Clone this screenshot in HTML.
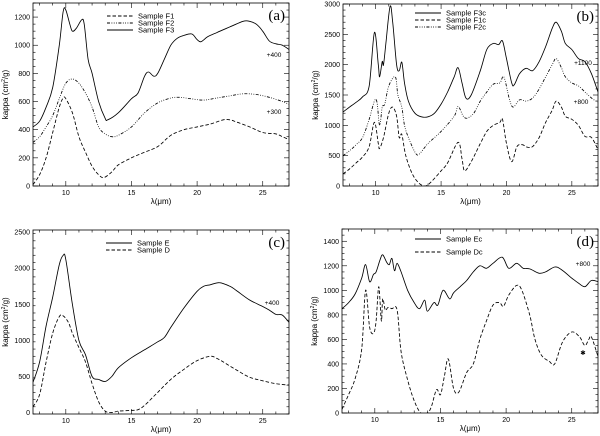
<!DOCTYPE html>
<html><head><meta charset="utf-8">
<style>
html,body{margin:0;padding:0;background:#fff;}
svg{display:block;font-family:"Liberation Sans",sans-serif;}
</style></head>
<body>
<svg id="chart" width="600" height="436" viewBox="0 0 600 436"></svg>
<script>
// ---- data (wavelength μm, kappa cm^2/g) ----
const aF3x=[7.5,8,8.5,9,9.5,9.8,10,10.3,10.5,10.8,11.2,11.4,11.7,12,12.5,13,13.2,14,15,15.5,16,16.3,16.7,17,17.5,18,18.5,19,19.6,20,20.3,20.8,21.5,22.5,23.5,24,24.5,25,25.5,26,26.5,27];
const aF3y=[420,460,560,700,1000,1240,1250,1150,1100,1120,1180,1150,900,800,600,480,470,520,620,660,780,810,780,800,900,1000,1050,1070,1080,1040,1025,1060,1090,1130,1170,1170,1150,1100,1030,1010,1000,970];
const aF2x=[7.5,8,8.5,9,9.5,10,10.5,11,11.5,12,12.5,13,13.5,14,15,16,17,18,18.7,19.5,20.5,21.5,22.5,23.5,24.5,25.5,26.5,27];
const aF2y=[310,350,420,500,620,730,760,730,660,560,420,370,350,360,420,520,590,625,630,620,610,625,640,655,650,630,600,580];
const aF1x=[7.5,8,8.5,9,9.5,9.8,10,10.5,11,11.5,12,12.5,12.9,13.5,14,15,16,17,18,19,20,21,22,22.5,23,24,25,26,26.5,27];
const aF1y=[10,80,200,380,560,625,620,520,350,240,140,80,60,100,150,200,240,280,360,400,420,440,470,470,455,420,380,370,350,330];

const bF3x=[7.5,8,8.5,9,9.5,9.9,10.2,10.3,10.5,10.6,10.8,11.1,11.3,11.6,11.8,12,12.2,12.5,13,13.5,14,14.5,15,15.5,16,16.3,16.6,16.9,17.3,18,18.5,19,19.4,19.7,20,20.4,20.6,21,21.5,22,22.5,23,23.5,23.8,24.2,24.5,25,25.5,26,26.5,27];
const bF3y=[1220,1300,1380,1470,1650,2530,2000,1800,2050,2000,2400,2960,2700,2000,1900,2040,1700,1400,1200,1140,1140,1200,1350,1550,1800,1950,1700,1450,1500,1900,2250,2350,2330,2390,2100,1700,1670,1850,1940,1900,2050,2300,2600,2700,2550,2350,2250,2100,2050,1850,1550];
const bF2x=[7.5,8,8.5,9,9.5,9.9,10.1,10.3,10.5,10.7,11,11.5,11.7,12,12.2,12.5,13,13.3,14,15,16,16.3,16.7,17,17.5,18,18.5,19,19.5,19.8,20.2,20.5,21,21.5,22,22.5,23,23.5,23.8,24.2,24.5,25,25.5,26,26.5,27];
const bF2y=[500,580,680,800,1100,1400,1380,1000,1300,1350,1650,1800,1500,1300,1000,800,560,520,700,900,1150,1310,1150,1120,1200,1400,1550,1680,1700,1800,1450,1300,1420,1400,1450,1600,1800,2000,2100,1950,1800,1700,1650,1550,1450,1380];
const bF1x=[7.5,8,8.5,9,9.5,9.9,10.2,10.3,10.6,11,11.3,11.6,11.8,12,12.3,12.8,13.3,13.8,14.3,15,15.5,16.3,16.6,16.8,17.3,18,18.5,19,19.5,19.7,20,20.4,20.8,21.2,21.6,22,22.5,23,23.5,23.8,24.2,24.5,25,25.5,26,26.5,27];
const bF1y=[200,280,380,480,650,1050,700,620,800,1200,1300,1150,800,850,500,200,50,0,80,250,380,720,450,250,400,700,900,1000,1050,1100,700,400,650,680,640,650,800,1050,1250,1400,1300,1150,1100,1000,820,800,600];

const cEx=[7.5,8,8.5,9,9.5,9.8,10,10.5,11,11.5,12,12.5,13,13.5,14,15,16,17,17.5,18,19,20,20.5,21,21.7,22.5,23,24,25,25.5,26,26.5,27];
const cEy=[420,700,1200,1600,2050,2180,2120,1500,1000,800,500,460,430,500,620,760,870,980,1040,1180,1450,1680,1750,1770,1800,1750,1690,1560,1470,1420,1360,1350,1250];
const cDx=[7.5,8,8.5,9,9.5,9.8,10.2,10.5,11,11.5,12,12.5,13,13.5,14,15,15.5,16,17,18,19,20,21,21.5,22,23,24,25,26,27];
const cDy=[80,250,700,1100,1330,1340,1250,1100,900,700,400,150,20,0,20,30,40,100,280,460,600,720,780,750,700,590,490,440,400,380];

const dEx=[7.5,8,8.5,9,9.3,9.6,9.9,10.1,10.4,10.6,10.9,11.1,11.3,11.5,11.7,12,12.5,13,13.4,13.8,14,14.5,14.8,15.2,15.7,16,16.5,17,17.5,18,18.5,19,19.7,20.2,20.8,21.3,21.8,22.5,23,23.7,24.2,25,25.5,26,26.5,27];
const dEy=[850,900,970,1100,1210,1070,1130,1150,1250,1290,1230,1210,1260,1160,1220,1150,1000,900,850,920,830,900,880,1000,930,980,1030,1080,1150,1200,1180,1220,1270,1180,1220,1180,1175,1140,1150,1190,1170,1100,1060,1030,1080,1070];
const dDx=[7.5,8,8.5,9,9.3,9.6,9.9,10.1,10.3,10.5,10.6,10.8,11,11.3,11.7,12,12.5,13,13.5,14,14.3,14.7,15,15.3,15.6,16,16.4,17,17.5,18,18.5,19,19.5,19.8,20.2,20.8,21.2,21.8,22.2,22.7,23.3,23.7,24.3,25,25.6,26,26.3,26.5,27];
const dDy=[30,150,280,520,1000,700,650,750,1030,750,930,840,860,850,840,500,270,100,0,0,50,190,150,300,440,200,170,330,400,600,750,880,900,870,960,1040,1000,800,600,470,420,400,580,660,620,550,600,620,460];

const xTicks=[10,15,20,25];
const aYTicks=[0,200,400,600,800,1000,1200];
const bYTicks=[0,500,1000,1500,2000,2500,3000];
const cYTicks=[0,500,1000,1500,2000,2500];
const dYTicks=[0,200,400,600,800,1000,1200,1400];

const NS="http://www.w3.org/2000/svg";
const svg=document.getElementById('chart');
function mk(tag,attrs,parent,text){const e=document.createElementNS(NS,tag);for(const k in attrs)e.setAttribute(k,attrs[k]);if(text!==undefined)e.textContent=text;(parent||svg).appendChild(e);return e;}

const DASH="3.5,2", DDD="3,1.5,0.8,1.5,0.8,1.5,0.8,1.5";

function smoothPath(xs,ys,sx,sy){
  const P=xs.map((x,i)=>[sx(x),sy(ys[i])]);
  let d="M"+P[0][0].toFixed(1)+","+P[0][1].toFixed(1);
  for(let i=0;i<P.length-1;i++){
    const p0=P[Math.max(0,i-1)],p1=P[i],p2=P[i+1],p3=P[Math.min(P.length-1,i+2)];
    const c1=[p1[0]+(p2[0]-p0[0])/6,p1[1]+(p2[1]-p0[1])/6];
    const c2=[p2[0]-(p3[0]-p1[0])/6,p2[1]-(p3[1]-p1[1])/6];
    d+="C"+c1[0].toFixed(1)+","+c1[1].toFixed(1)+" "+c2[0].toFixed(1)+","+c2[1].toFixed(1)+" "+p2[0].toFixed(1)+","+p2[1].toFixed(1);
  }
  return d;
}

function panel(cfg){
  const g=mk('g',{});
  
  
  const sx=v=>cfg.x0+(v-7.5)/(27-7.5)*(cfg.x1-cfg.x0);
  const sy=v=>cfg.y1-(v-cfg.ymin)/(cfg.ymax-cfg.ymin)*(cfg.y1-cfg.y0);
  const frame=mk('rect',{x:cfg.x0,y:cfg.y0,width:cfg.x1-cfg.x0,height:cfg.y1-cfg.y0,fill:'none',stroke:'#000','stroke-width':0.8},g);
  
  
  for(let v=8;v<=27;v++){
    const major=xTicks.includes(v);const L=major?5:2.5;
    mk('line',{x1:sx(v),x2:sx(v),y1:cfg.y1,y2:cfg.y1-L,stroke:'#000','stroke-width':0.6},g);
    mk('line',{x1:sx(v),x2:sx(v),y1:cfg.y0,y2:cfg.y0+L,stroke:'#000','stroke-width':0.6},g);
  }
  xTicks.forEach(v=>{
    const t=mk('text',{x:sx(v),y:cfg.y1+9,'font-size':7,'text-anchor':'middle'},g,String(v));
    
    
  });
  const minor=cfg.yMinor;
  for(let v=cfg.ymin;v<=cfg.ymax+0.01;v+=minor){
    const major=cfg.yTicks.includes(Math.round(v));const L=major?5:2.5;
    mk('line',{x1:cfg.x0,x2:cfg.x0+L,y1:sy(v),y2:sy(v),stroke:'#000','stroke-width':0.6},g);
    mk('line',{x1:cfg.x1,x2:cfg.x1-L,y1:sy(v),y2:sy(v),stroke:'#000','stroke-width':0.6},g);
  }
  cfg.yTicks.forEach(v=>{
    const t=mk('text',{x:cfg.x0-3,y:sy(v)+2.5,'font-size':7,'text-anchor':'end'},g,String(v));
    
    
  });
  const xt=mk('text',{x:(cfg.x0+cfg.x1)/2,y:cfg.y1+18,'font-size':8,'text-anchor':'middle'},g,'λ(μm)');
  
  
  const yx=cfg.x0-25, yy=(cfg.y0+cfg.y1)/2;
  const yt=mk('text',{x:yx,y:yy,'font-size':8,'text-anchor':'middle',transform:`rotate(-90 ${yx} ${yy})`},g);
  
  
  yt.innerHTML='kappa (cm<tspan font-size="5" dy="-3">2</tspan><tspan dy="3">/g)</tspan>';
  const clipId='clip'+cfg.id;
  const cp=mk('clipPath',{id:clipId},g);
  mk('rect',{x:cfg.x0,y:cfg.y0,width:cfg.x1-cfg.x0,height:cfg.y1-cfg.y0},cp);
  cfg.series.forEach((s,i)=>{
    const p=mk('path',{d:smoothPath(s.x,s.y,sx,sy),fill:'none',stroke:'#000','stroke-width':0.85,'clip-path':`url(#${clipId})`},g);
    if(s.dash) p.setAttribute('stroke-dasharray',s.dash);
    
    
    const ly=cfg.legY[i];
    const ll=mk('line',{x1:cfg.legX,x2:cfg.legX+26,y1:ly,y2:ly,stroke:'#000','stroke-width':0.9},g);
    if(s.dash) ll.setAttribute('stroke-dasharray',s.dash);
    
    
    const lt=mk('text',{x:cfg.legX+31,y:ly+2.5,'font-size':7.5},g,s.name);
    
    
  });
  cfg.notes.forEach(n=>{
    const t=mk('text',{x:n[0],y:n[1],'font-size':6.5,'text-anchor':'middle'},g,n[2]);
    
    
  });
  const pl=mk('text',{x:cfg.x1-4,y:cfg.y0+17,'font-size':15,'text-anchor':'end','font-family':'"Liberation Serif",serif'},g,'('+cfg.id+')');
  
  
}

panel({id:'a',x0:33,x1:289,y0:3,y1:186,ymin:0,ymax:1300,yTicks:aYTicks,yMinor:50,legX:107,legY:[16,23,30],
  series:[{name:'Sample F1',x:aF1x,y:aF1y,dash:DASH},{name:'Sample F2',x:aF2x,y:aF2y,dash:DDD},{name:'Sample F3',x:aF3x,y:aF3y}],
  notes:[[274,57,'+400'],[274,114,'+300']]});
panel({id:'b',x0:343,x1:598,y0:4,y1:186,ymin:0,ymax:3000,yTicks:bYTicks,yMinor:100,legX:415,legY:[13,20,27],
  series:[{name:'Sample F3c',x:bF3x,y:bF3y},{name:'Sample F1c',x:bF1x,y:bF1y,dash:DASH},{name:'Sample F2c',x:bF2x,y:bF2y,dash:DDD}],
  notes:[[583,65,'+1100'],[581,104,'+800']]});
panel({id:'c',x0:33,x1:289,y0:230,y1:414,ymin:-20,ymax:2530,yTicks:cYTicks,yMinor:100,legX:106,legY:[243,250],
  series:[{name:'Sample E',x:cEx,y:cEy},{name:'Sample D',x:cDx,y:cDy,dash:DASH}],
  notes:[[272,305,'+400']]});
panel({id:'d',x0:342,x1:598,y0:229,y1:413,ymin:0,ymax:1500,yTicks:dYTicks,yMinor:50,legX:415,legY:[239,252],
  series:[{name:'Sample Ec',x:dEx,y:dEy},{name:'Sample Dc',x:dDx,y:dDy,dash:DASH}],
  notes:[[583,266,'+800'],[583,355,'✱']]});
</script>
</body></html>
